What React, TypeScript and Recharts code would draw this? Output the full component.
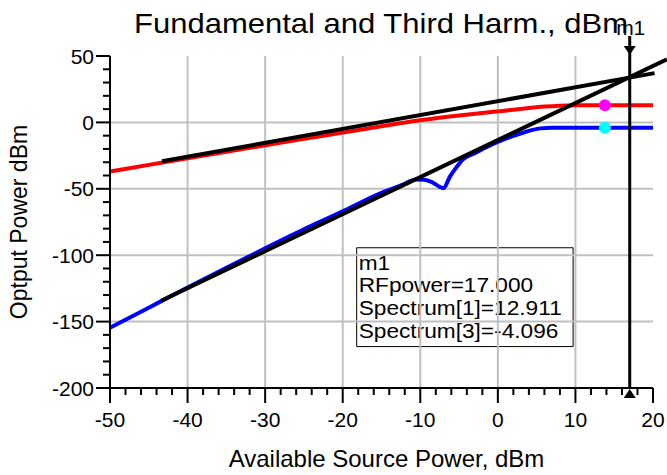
import {
  LineChart,
  Line,
  XAxis,
  YAxis,
  ReferenceLine,
  ReferenceDot,
  ReferenceArea,
} from "recharts";

// input power, dBm
const fundIn = [-50, -45, -40, -35, -30, -25, -20, -15, -10, -5, -2, 0, 2, 4, 6, 8, 10, 13, 17, 20];
// Spectrum[1], dBm
const fundOut = [-37, -32, -27, -22.1, -17.2, -12.4, -7.7, -2.9, 1.6, 5.2, 7.1, 8.3, 9.5, 10.8, 11.9, 12.6, 12.85, 12.91, 12.911, 12.91];

const harmIn = [-50, -45, -40, -35, -30, -25, -20, -15, -12.5, -10.5, -9.5, -8.5, -7.5, -7, -6.2, -5.3, -4.5, -3, -2, -1, 0, 1, 2, 3.3, 4.5, 5.5, 7, 10, 15, 20];
// Spectrum[3], dBm
const harmOut = [-154.7, -139.5, -124.3, -109.5, -94.8, -80.5, -67, -53, -47.5, -43, -43.2, -45, -48.5, -49.5, -41, -33.5, -27.8, -23.2, -20.2, -17.3, -14.7, -12.3, -10.2, -7.7, -5.6, -4.5, -4.1, -4.096, -4.096, -4.096];

// extrapolated slope-1 and slope-3 lines
const fundTangentIn = [-43.3, 20.2];
const fundTangentOut = [-29.3, 37.1];
const harmTangentIn = [-43.4, 21.8];
const harmTangentOut = [-134.3, 47.5];

// trace symbols
const symbolIn = 13.8;
const symbolFund = 12.911;
const symbolHarm = -4.096;

// marker m1
const markerIn = 17;
const markerReadout = ["m1", "RFpower=17.000", "Spectrum[1]=12.911", "Spectrum[3]=-4.096"];

const xTicks = [-50, -48, -46, -44, -42, -40, -38, -36, -34, -32, -30, -28, -26, -24, -22, -20, -18, -16, -14, -12, -10, -8, -6, -4, -2, 0, 2, 4, 6, 8, 10, 12, 14, 16, 18, 20];
const xMajor = [-50, -40, -30, -20, -10, 0, 10, 20];
const yTicks = [-200, -190, -180, -170, -160, -150, -140, -130, -120, -110, -100, -90, -80, -70, -60, -50, -40, -30, -20, -10, 0, 10, 20, 30, 40, 50];
const yMajor = [-200, -150, -100, -50, 0, 50];
const xGrid = [-40, -30, -20, -10, 0, 10];
const yGrid = [-150, -100, -50, 0];

const fundData = fundIn.map((x, i) => ({ x, y: fundOut[i] }));
const harmData = harmIn.map((x, i) => ({ x, y: harmOut[i] }));
const fundTangent = fundTangentIn.map((x, i) => ({ x, y: fundTangentOut[i] }));
const harmTangent = harmTangentIn.map((x, i) => ({ x, y: harmTangentOut[i] }));

const XTick = ({ x, y, payload }: any) => {
  const major = xMajor.includes(payload.value);
  return (
    <g>
      <line x1={x} y1={y} x2={x} y2={y + (major ? 15 : 7)} stroke="#000" strokeWidth={2} />
      {major && (
        <text x={x} y={y + 39} textAnchor="middle" fontSize={21} fill="#000">
          {payload.value}
        </text>
      )}
    </g>
  );
};

const YTick = ({ x, y, payload }: any) => {
  const major = yMajor.includes(payload.value);
  return (
    <g>
      <line x1={x - (major ? 14 : 7)} y1={y} x2={x} y2={y} stroke="#000" strokeWidth={2} />
      {major && (
        <text x={x - 16} y={y + 7.5} textAnchor="end" fontSize={21} fill="#000">
          {payload.value}
        </text>
      )}
    </g>
  );
};

const XLabel = ({ viewBox }: any) => (
  <text x={viewBox.x + viewBox.width / 2 + 5} y={viewBox.y + 79} textAnchor="middle" fontSize={24} fill="#000">
    Available Source Power, dBm
  </text>
);

const YLabel = ({ viewBox }: any) => (
  <text
    transform={`translate(27, ${viewBox.y + viewBox.height / 2}) rotate(-90)`}
    textAnchor="middle"
    fontSize={23}
    fill="#000"
  >
    Optput Power dBm
  </text>
);

const MarkerFlag = ({ viewBox }: any) => {
  const { x, y, height } = viewBox;
  const b = y + height;
  return (
    <g>
      <line x1={x} y1={y - 20} x2={x} y2={y} stroke="#000" strokeWidth={3} />
      <polygon points={`${x - 6},${y - 10} ${x + 6},${y - 10} ${x},${y - 1}`} fill="#000" />
      <polygon points={`${x - 6},${b + 10} ${x + 6},${b + 10} ${x},${b + 1}`} fill="#000" />
      <text x={x + 1} y={y - 21} textAnchor="middle" fontSize={21} fill="#000">
        m1
      </text>
    </g>
  );
};

// readout lines are stretched a little to fill the box like the original
const Readout = ({ viewBox }: any) => (
  <g>
    {markerReadout.map((s, i) => (
      <text
        key={s}
        x={viewBox.x + 2}
        y={viewBox.y + 22 + i * 22.7}
        fontSize={21}
        fill="#000"
        transform={`translate(${viewBox.x + 2}, 0) scale(1.08, 1) translate(${-(viewBox.x + 2)}, 0)`}
      >
        {s}
      </text>
    ))}
  </g>
);

export default function App() {
  return (
    <div
      style={{
        position: "absolute",
        left: 0,
        top: 0,
        width: 667,
        height: 475,
        fontFamily: "'Liberation Sans', Arial, sans-serif",
        background: "#fff",
      }}
    >
      <svg width={667} height={56} style={{ position: "absolute", left: 0, top: 0 }}>
        <text
          x={134}
          y={33}
          fontSize={28}
          fill="#000"
          textLength={494}
          lengthAdjust="spacingAndGlyphs"
        >
          Fundamental and Third Harm., dBm
        </text>
      </svg>
      <div style={{ position: "absolute", left: 0, top: 0 }}>
        <LineChart width={667} height={475} margin={{ top: 56, right: 14, bottom: 0, left: 0 }}>
          {xGrid.map((v) => (
            <ReferenceLine key={`gx${v}`} x={v} stroke="#c0c0c0" strokeWidth={2} />
          ))}
          {yGrid.map((v) => (
            <ReferenceLine key={`gy${v}`} y={v} stroke="#c0c0c0" strokeWidth={2} />
          ))}
          <XAxis
            dataKey="x"
            type="number"
            domain={[-50, 20]}
            ticks={xTicks}
            interval={0}
            height={87}
            tickSize={0}
            tickMargin={0}
            tickLine={false}
            tick={<XTick />}
            axisLine={{ stroke: "#000", strokeWidth: 2 }}
            label={XLabel}
          />
          <XAxis
            xAxisId="top"
            orientation="top"
            type="number"
            domain={[-50, 20]}
            height={0}
            tick={false}
            tickLine={false}
            axisLine={{ stroke: "#000", strokeWidth: 2 }}
          />
          <YAxis
            type="number"
            domain={[-200, 50]}
            ticks={yTicks}
            interval={0}
            width={110}
            tickSize={0}
            tickMargin={0}
            tickLine={false}
            tick={<YTick />}
            axisLine={{ stroke: "#000", strokeWidth: 2 }}
            label={YLabel}
          />
          <YAxis
            yAxisId="right"
            orientation="right"
            type="number"
            domain={[-200, 50]}
            width={0}
            tick={false}
            tickLine={false}
            axisLine={{ stroke: "#000", strokeWidth: 2 }}
          />
          <Line
            data={fundData}
            dataKey="y"
            type="monotone"
            stroke="#ff0000"
            strokeWidth={4}
            dot={false}
            isAnimationActive={false}
          />
          <Line
            data={harmData}
            dataKey="y"
            type="monotone"
            stroke="#0000ff"
            strokeWidth={4}
            dot={false}
            isAnimationActive={false}
          />
          <ReferenceLine segment={fundTangent} ifOverflow="visible" stroke="#000" strokeWidth={4} />
          <ReferenceLine segment={harmTangent} ifOverflow="visible" stroke="#000" strokeWidth={4} />
          <ReferenceDot x={symbolIn} y={symbolFund} r={6} fill="#ff00ff" stroke="none" />
          <ReferenceDot x={symbolIn} y={symbolHarm} r={6} fill="#00ffff" stroke="none" />
          <ReferenceLine x={markerIn} stroke="#000" strokeWidth={3} label={MarkerFlag} />
          <ReferenceArea
            x1={-18.2}
            x2={9.7}
            y1={-168.8}
            y2={-94.4}
            fill="none"
            stroke="#000"
            strokeWidth={1}
            label={Readout}
          />
        </LineChart>
      </div>
    </div>
  );
}
